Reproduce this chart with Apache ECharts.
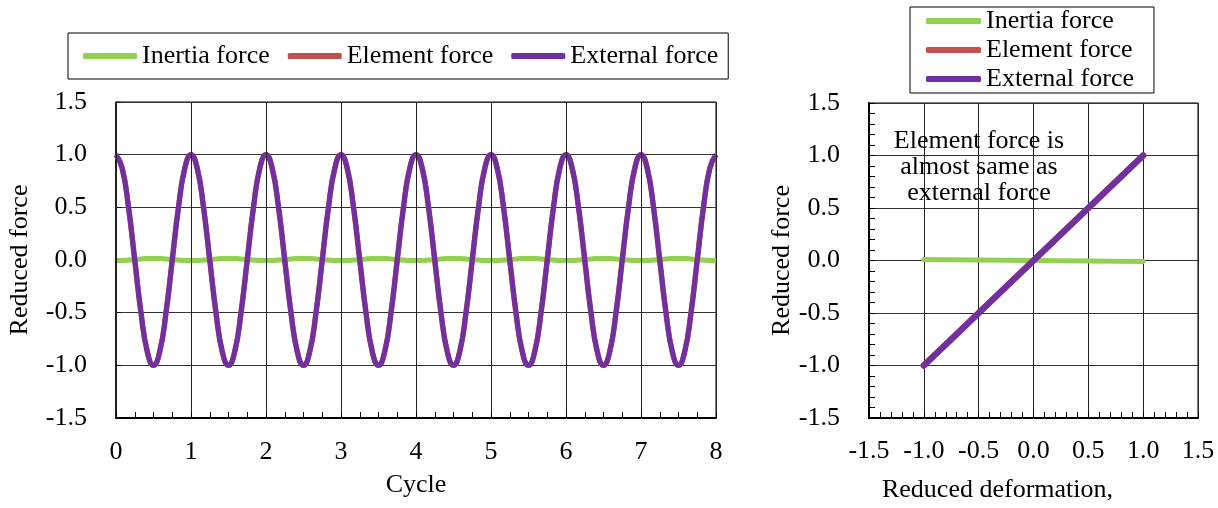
<!DOCTYPE html>
<html lang="en">
<head>
  <meta charset="UTF-8">
  <title>Reduced force vs cycle / deformation</title>
  <script src="https://cdn.jsdelivr.net/npm/echarts@6/dist/echarts.min.js"></script>
  <style>
    body { margin: 0; padding: 0; background: #fff; }
    #chart { width: 1218px; height: 508px; }
  </style>
</head>
<body>
<div id="chart"></div>
<script>
  // left panel: force history over 8 cycles (12 samples per cycle)
  const cycle = [
    0, 0.083, 0.167, 0.25, 0.333, 0.417, 0.5, 0.583, 0.667, 0.75, 0.833, 0.917,
    1, 1.083, 1.167, 1.25, 1.333, 1.417, 1.5, 1.583, 1.667, 1.75, 1.833, 1.917,
    2, 2.083, 2.167, 2.25, 2.333, 2.417, 2.5, 2.583, 2.667, 2.75, 2.833, 2.917,
    3, 3.083, 3.167, 3.25, 3.333, 3.417, 3.5, 3.583, 3.667, 3.75, 3.833, 3.917,
    4, 4.083, 4.167, 4.25, 4.333, 4.417, 4.5, 4.583, 4.667, 4.75, 4.833, 4.917,
    5, 5.083, 5.167, 5.25, 5.333, 5.417, 5.5, 5.583, 5.667, 5.75, 5.833, 5.917,
    6, 6.083, 6.167, 6.25, 6.333, 6.417, 6.5, 6.583, 6.667, 6.75, 6.833, 6.917,
    7, 7.083, 7.167, 7.25, 7.333, 7.417, 7.5, 7.583, 7.667, 7.75, 7.833, 7.917,
    8
  ];
  const externalForce = [
    1.00, 0.87, 0.50, 0.00, -0.50, -0.87, -1.00, -0.87, -0.50, 0.00, 0.50, 0.87,
    1.00, 0.87, 0.50, 0.00, -0.50, -0.87, -1.00, -0.87, -0.50, 0.00, 0.50, 0.87,
    1.00, 0.87, 0.50, 0.00, -0.50, -0.87, -1.00, -0.87, -0.50, 0.00, 0.50, 0.87,
    1.00, 0.87, 0.50, 0.00, -0.50, -0.87, -1.00, -0.87, -0.50, 0.00, 0.50, 0.87,
    1.00, 0.87, 0.50, 0.00, -0.50, -0.87, -1.00, -0.87, -0.50, 0.00, 0.50, 0.87,
    1.00, 0.87, 0.50, 0.00, -0.50, -0.87, -1.00, -0.87, -0.50, 0.00, 0.50, 0.87,
    1.00, 0.87, 0.50, 0.00, -0.50, -0.87, -1.00, -0.87, -0.50, 0.00, 0.50, 0.87,
    1.00, 0.87, 0.50, 0.00, -0.50, -0.87, -1.00, -0.87, -0.50, 0.00, 0.50, 0.87,
    1.00
  ];
  const elementForce = [
    1.00, 0.87, 0.50, 0.00, -0.50, -0.87, -1.00, -0.87, -0.50, 0.00, 0.50, 0.87,
    1.00, 0.87, 0.50, 0.00, -0.50, -0.87, -1.00, -0.87, -0.50, 0.00, 0.50, 0.87,
    1.00, 0.87, 0.50, 0.00, -0.50, -0.87, -1.00, -0.87, -0.50, 0.00, 0.50, 0.87,
    1.00, 0.87, 0.50, 0.00, -0.50, -0.87, -1.00, -0.87, -0.50, 0.00, 0.50, 0.87,
    1.00, 0.87, 0.50, 0.00, -0.50, -0.87, -1.00, -0.87, -0.50, 0.00, 0.50, 0.87,
    1.00, 0.87, 0.50, 0.00, -0.50, -0.87, -1.00, -0.87, -0.50, 0.00, 0.50, 0.87,
    1.00, 0.87, 0.50, 0.00, -0.50, -0.87, -1.00, -0.87, -0.50, 0.00, 0.50, 0.87,
    1.00, 0.87, 0.50, 0.00, -0.50, -0.87, -1.00, -0.87, -0.50, 0.00, 0.50, 0.87,
    1.00
  ];
  const inertiaForce = [
    -0.005, -0.004, 0.000, 0.005, 0.010, 0.014, 0.015, 0.014, 0.010, 0.005, 0.000, -0.004,
    -0.005, -0.004, 0.000, 0.005, 0.010, 0.014, 0.015, 0.014, 0.010, 0.005, 0.000, -0.004,
    -0.005, -0.004, 0.000, 0.005, 0.010, 0.014, 0.015, 0.014, 0.010, 0.005, 0.000, -0.004,
    -0.005, -0.004, 0.000, 0.005, 0.010, 0.014, 0.015, 0.014, 0.010, 0.005, 0.000, -0.004,
    -0.005, -0.004, 0.000, 0.005, 0.010, 0.014, 0.015, 0.014, 0.010, 0.005, 0.000, -0.004,
    -0.005, -0.004, 0.000, 0.005, 0.010, 0.014, 0.015, 0.014, 0.010, 0.005, 0.000, -0.004,
    -0.005, -0.004, 0.000, 0.005, 0.010, 0.014, 0.015, 0.014, 0.010, 0.005, 0.000, -0.004,
    -0.005, -0.004, 0.000, 0.005, 0.010, 0.014, 0.015, 0.014, 0.010, 0.005, 0.000, -0.004,
    -0.005
  ];

  // right panel: force vs reduced deformation
  const deformation = [-1.0, -0.5, 0.0, 0.5, 1.0];
  const externalVsDef = [-1.0, -0.5, 0.0, 0.5, 1.0];
  const elementVsDef = [-1.0, -0.5, 0.0, 0.5, 1.0];
  const inertiaVsDef = [0.01, 0.005, 0.0, -0.005, -0.01];

  const seriesNames = ['Inertia force', 'Element force', 'External force'];
  const colors = ['#92d050', '#c0504d', '#7030a0'];
  const note = 'Element force is\nalmost same as\nexternal force';

  const FONT = '"Liberation Serif", "Times New Roman", serif';
  const pairs = (xs, ys) => xs.map((x, i) => [x, ys[i]]);
  const fmt = v => v.toFixed(1);

  const chart = echarts.init(document.getElementById('chart'));

  const axisText = { color: '#000', fontFamily: FONT, fontSize: 26 };
  const nameText = { color: '#000', fontFamily: FONT, fontSize: 26 };

  const option = {
    animation: false,
    color: colors,
    textStyle: { fontFamily: FONT },
    grid: [
      { left: 116, right: 502, top: 102, bottom: 90, show: true, borderColor: '#000', borderWidth: 1 },
      { left: 869, right: 20, top: 103, bottom: 85, show: true, borderColor: '#000', borderWidth: 1 }
    ],
    legend: [
      {
        data: seriesNames,
        left: 68,
        top: 33,
        orient: 'horizontal',
        icon: 'roundRect',
        itemWidth: 54,
        itemHeight: 6,
        itemGap: 18,
        padding: [10, 10, 10, 15],
        borderColor: '#000',
        borderWidth: 1,
        textStyle: { color: '#000', fontFamily: FONT, fontSize: 26 }
      },
      {
        data: seriesNames,
        left: 910,
        top: 7,
        orient: 'vertical',
        icon: 'roundRect',
        itemWidth: 55,
        itemHeight: 6,
        itemGap: 3,
        padding: [1, 20, 1, 16],
        borderColor: '#000',
        borderWidth: 1,
        textStyle: { color: '#000', fontFamily: FONT, fontSize: 26 }
      }
    ],
    xAxis: [
      {
        type: 'value', gridIndex: 0, min: 0, max: 8, interval: 1, z: 10,
        name: 'Cycle', nameLocation: 'middle', nameGap: 54, nameTextStyle: nameText,
        axisLabel: Object.assign({ formatter: v => v.toFixed(0), margin: 21, showMinLabel: true, showMaxLabel: true }, axisText),
        axisLine: { show: true, onZero: false, lineStyle: { color: '#000', width: 2 } },
        axisTick: { show: true, inside: true, length: 6, lineStyle: { color: '#000', width: 1 } },
        minorTick: { show: true, splitNumber: 4, length: 6, lineStyle: { color: '#000', width: 1 } },
        splitLine: { show: true, lineStyle: { color: '#222', width: 1 } }
      },
      {
        type: 'value', gridIndex: 1, min: -1.5, max: 1.5, interval: 0.5,
        name: 'Reduced deformation,', nameLocation: 'middle', nameGap: 59,
        nameTextStyle: Object.assign({ padding: [0, 72, 0, 0] }, nameText),
        axisLabel: Object.assign({ formatter: fmt, margin: 20, showMinLabel: true, showMaxLabel: true }, axisText),
        axisLine: { show: true, onZero: false, lineStyle: { color: '#000', width: 2 } },
        axisTick: { show: true, inside: true, length: 6, lineStyle: { color: '#000', width: 1 } },
        minorTick: { show: true, splitNumber: 5, length: 6, lineStyle: { color: '#000', width: 1 } },
        splitLine: { show: true, lineStyle: { color: '#222', width: 1 } }
      }
    ],
    yAxis: [
      {
        type: 'value', gridIndex: 0, min: -1.5, max: 1.5, interval: 0.5,
        name: 'Reduced force', nameLocation: 'middle', nameGap: 83, nameTextStyle: nameText,
        axisLabel: Object.assign({ formatter: fmt, margin: 29, showMinLabel: true, showMaxLabel: true }, axisText),
        axisLine: { show: true, onZero: false, lineStyle: { color: '#000', width: 1.5 } },
        axisTick: { show: true, inside: true, length: 5, lineStyle: { color: '#000', width: 1 } },
        splitLine: { show: true, lineStyle: { color: '#333', width: 1 } }
      },
      {
        type: 'value', gridIndex: 1, min: -1.5, max: 1.5, interval: 0.5,
        name: 'Reduced force', nameLocation: 'middle', nameGap: 70, nameTextStyle: nameText,
        axisLabel: Object.assign({ formatter: fmt, margin: 29, showMinLabel: true, showMaxLabel: true }, axisText),
        axisLine: { show: true, onZero: false, lineStyle: { color: '#000', width: 2 } },
        axisTick: { show: true, inside: true, length: 6, lineStyle: { color: '#000', width: 1 } },
        minorTick: { show: true, splitNumber: 5, length: 6, lineStyle: { color: '#000', width: 1 } },
        splitLine: { show: true, lineStyle: { color: '#333', width: 1 } }
      }
    ],
    graphic: [
      {
        type: 'text',
        x: 979,
        y: 128,
        z: 50,
        style: {
          text: note,
          fill: '#000',
          font: '26px ' + FONT,
          textAlign: 'center',
          textVerticalAlign: 'top',
          lineHeight: 26
        }
      }
    ],
    series: [
      {
        name: seriesNames[0], type: 'line', xAxisIndex: 0, yAxisIndex: 0,
        data: pairs(cycle, inertiaForce), smooth: true, showSymbol: false, symbol: 'none',
        lineStyle: { color: colors[0], width: 5 }, z: 2
      },
      {
        name: seriesNames[1], type: 'line', xAxisIndex: 0, yAxisIndex: 0,
        data: pairs(cycle, elementForce), smooth: true, showSymbol: false, symbol: 'none',
        lineStyle: { color: colors[1], width: 5.5 }, z: 3
      },
      {
        name: seriesNames[2], type: 'line', xAxisIndex: 0, yAxisIndex: 0,
        data: pairs(cycle, externalForce), smooth: true, showSymbol: false, symbol: 'none',
        lineStyle: { color: colors[2], width: 5 }, z: 4
      },
      {
        name: seriesNames[0], type: 'line', xAxisIndex: 1, yAxisIndex: 1,
        data: pairs(deformation, inertiaVsDef), showSymbol: false, symbol: 'none',
        lineStyle: { color: colors[0], width: 5, cap: 'round' }, z: 2
      },
      {
        name: seriesNames[1], type: 'line', xAxisIndex: 1, yAxisIndex: 1,
        data: pairs(deformation, elementVsDef), showSymbol: false, symbol: 'none',
        lineStyle: { color: colors[1], width: 6.5, cap: 'round' }, z: 3
      },
      {
        name: seriesNames[2], type: 'line', xAxisIndex: 1, yAxisIndex: 1,
        data: pairs(deformation, externalVsDef), showSymbol: false, symbol: 'none',
        lineStyle: { color: colors[2], width: 6, cap: 'round' }, z: 4
      }
    ]
  };

  chart.setOption(option);
</script>
</body>
</html>
